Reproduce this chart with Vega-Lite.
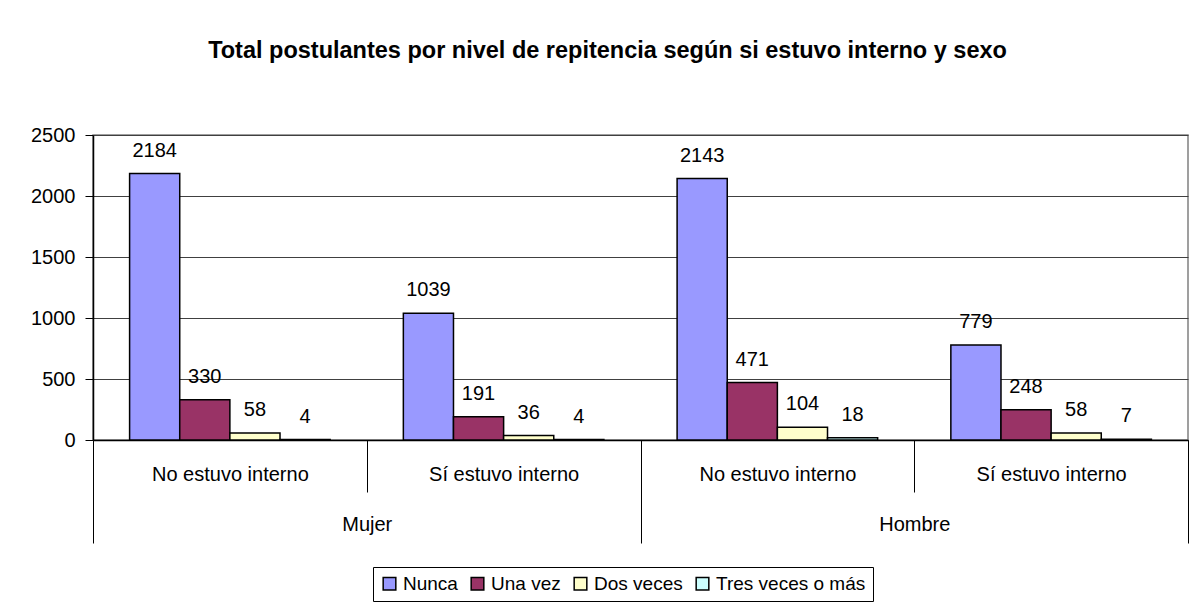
{
  "$schema": "https://vega.github.io/schema/vega-lite/v6.json",
  "width": 1095,
  "height": 305,
  "autosize": "none",
  "padding": {"left": 93, "top": 135, "right": 7, "bottom": 172},
  "background": "white",
  "title": {
    "text": "Total postulantes por nivel de repitencia según si estuvo interno y sexo",
    "font": "Liberation Sans",
    "fontSize": 23.5,
    "fontWeight": "bold",
    "color": "black",
    "anchor": "middle",
    "frame": "group",
    "dx": -33,
    "baseline": "alphabetic",
    "offset": 44
  },
  "config": {
    "font": "Liberation Sans",
    "view": {"stroke": "#808080", "strokeWidth": 1.5}
  },
  "data": {
    "values": [
      {"sexo": "Mujer", "grupo": "Mujer|No estuvo interno", "nivel": "Nunca", "total": 2184},
      {"sexo": "Mujer", "grupo": "Mujer|No estuvo interno", "nivel": "Una vez", "total": 330},
      {"sexo": "Mujer", "grupo": "Mujer|No estuvo interno", "nivel": "Dos veces", "total": 58},
      {"sexo": "Mujer", "grupo": "Mujer|No estuvo interno", "nivel": "Tres veces o más", "total": 4},
      {"sexo": "Mujer", "grupo": "Mujer|Sí estuvo interno", "nivel": "Nunca", "total": 1039},
      {"sexo": "Mujer", "grupo": "Mujer|Sí estuvo interno", "nivel": "Una vez", "total": 191},
      {"sexo": "Mujer", "grupo": "Mujer|Sí estuvo interno", "nivel": "Dos veces", "total": 36},
      {"sexo": "Mujer", "grupo": "Mujer|Sí estuvo interno", "nivel": "Tres veces o más", "total": 4},
      {"sexo": "Hombre", "grupo": "Hombre|No estuvo interno", "nivel": "Nunca", "total": 2143},
      {"sexo": "Hombre", "grupo": "Hombre|No estuvo interno", "nivel": "Una vez", "total": 471},
      {"sexo": "Hombre", "grupo": "Hombre|No estuvo interno", "nivel": "Dos veces", "total": 104},
      {"sexo": "Hombre", "grupo": "Hombre|No estuvo interno", "nivel": "Tres veces o más", "total": 18},
      {"sexo": "Hombre", "grupo": "Hombre|Sí estuvo interno", "nivel": "Nunca", "total": 779},
      {"sexo": "Hombre", "grupo": "Hombre|Sí estuvo interno", "nivel": "Una vez", "total": 248},
      {"sexo": "Hombre", "grupo": "Hombre|Sí estuvo interno", "nivel": "Dos veces", "total": 58},
      {"sexo": "Hombre", "grupo": "Hombre|Sí estuvo interno", "nivel": "Tres veces o más", "total": 7}
    ]
  },
  "layer": [
    {
      "encoding": {
        "x": {
          "field": "grupo",
          "type": "nominal",
          "sort": ["Mujer|No estuvo interno", "Mujer|Sí estuvo interno", "Hombre|No estuvo interno", "Hombre|Sí estuvo interno"],
          "scale": {"paddingInner": 0, "paddingOuter": 0},
          "axis": {
            "title": null,
            "orient": "bottom",
            "labelExpr": "split(datum.value, '|')[1]",
            "labelAngle": 0,
            "labelFontSize": 20,
            "labelColor": "black",
            "labelPadding": -28,
            "tickBand": "extent",
            "tickSize": 52,
            "tickColor": "black",
            "tickWidth": 1,
            "domainColor": "black",
            "domainWidth": 1.5,
            "grid": false
          }
        },
        "xOffset": {
          "field": "nivel",
          "type": "nominal",
          "sort": ["Nunca", "Una vez", "Dos veces", "Tres veces o más"],
          "scale": {"paddingInner": 0, "paddingOuter": 0.73}
        },
        "y": {
          "field": "total",
          "type": "quantitative",
          "scale": {"domain": [0, 2500]},
          "axis": {
            "title": null,
            "values": [0, 500, 1000, 1500, 2000, 2500],
            "format": "d",
            "labelFontSize": 20,
            "labelColor": "black",
            "labelPadding": 10,
            "tickSize": 8,
            "tickColor": "black",
            "domainColor": "black",
            "domainWidth": 1.5,
            "gridColor": "#404040",
            "gridWidth": 1
          }
        }
      },
      "layer": [
        {
          "mark": {"type": "bar", "stroke": "black", "strokeWidth": 1.5},
          "encoding": {
            "color": {
              "field": "nivel",
              "type": "nominal",
              "sort": ["Nunca", "Una vez", "Dos veces", "Tres veces o más"],
              "scale": {
                "domain": ["Nunca", "Una vez", "Dos veces", "Tres veces o más"],
                "range": ["#9999FF", "#993366", "#FFFFCC", "#CCFFFF"]
              },
              "legend": {
                "title": null,
                "orient": "none",
                "direction": "horizontal",
                "legendX": 280,
                "legendY": 432,
                "symbolType": "square",
                "symbolSize": 160,
                "symbolStrokeColor": "black",
                "symbolStrokeWidth": 1.5,
                "labelFontSize": 19,
                "labelColor": "black",
                "labelOffset": 4,
                "columnPadding": 10,
                "padding": 7,
                "strokeColor": "black",
                "fillColor": "white"
              }
            }
          }
        },
        {
          "mark": {"type": "text", "baseline": "alphabetic", "dy": -17, "fontSize": 20, "color": "black"},
          "encoding": {"text": {"field": "total", "type": "quantitative"}}
        }
      ]
    },
    {
      "mark": {"type": "rule", "opacity": 0},
      "encoding": {
        "x": {
          "field": "sexo",
          "type": "nominal",
          "sort": ["Mujer", "Hombre"],
          "scale": {"paddingInner": 0, "paddingOuter": 0},
          "axis": {
            "title": null,
            "orient": "bottom",
            "labelAngle": 0,
            "labelFontSize": 20,
            "labelColor": "black",
            "labelPadding": -29,
            "tickBand": "extent",
            "tickSize": 103,
            "tickColor": "black",
            "tickWidth": 1,
            "domain": false,
            "grid": false
          }
        }
      }
    }
  ],
  "resolve": {"scale": {"x": "independent"}, "axis": {"x": "independent"}}
}
